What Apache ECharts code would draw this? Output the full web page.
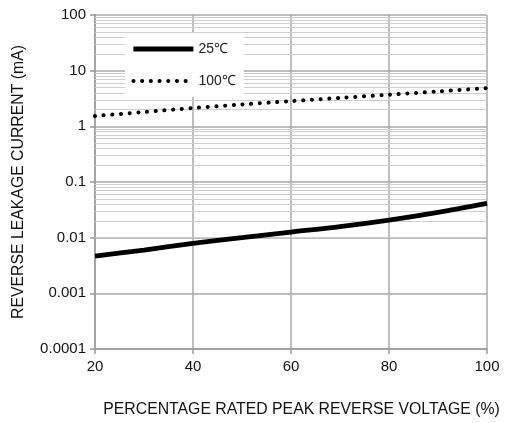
<!DOCTYPE html>
<html><head><meta charset="utf-8">
<script src="https://cdn.jsdelivr.net/npm/echarts@6/dist/echarts.min.js"></script>
<style>html,body{margin:0;padding:0;background:#fff}#c{width:509px;height:423px}</style>
</head><body><div id="c"></div>
<script>
const xValues = [20, 30, 40, 50, 60, 70, 80, 90, 100];
const current25 = [0.00468, 0.0060, 0.0079, 0.0100, 0.0126, 0.0158, 0.0207, 0.0285, 0.0412];
const current100 = [1.53, 1.81, 2.13, 2.47, 2.84, 3.24, 3.70, 4.24, 4.86];
const yTickLabels = ['0.0001', '0.001', '0.01', '0.1', '1', '10', '100'];
const seriesNames = ['25℃', '100℃'];

const minorValues = [];
for (let e = -4; e < 2; e++) {
  for (let k = 2; k <= 9; k++) minorValues.push(+(k * Math.pow(10, e)).toPrecision(3));
}

const font = 'Liberation Sans, Arial, sans-serif';
const solidStyle = { color: '#000', width: 4.8, type: 'solid' };
const dotStyle = { color: '#000', width: 4, type: [0.1, 8.6], cap: 'round' };

const chart = echarts.init(document.getElementById('c'));
chart.setOption({
  animation: false,
  backgroundColor: '#fff',
  grid: { left: 95, right: 22, top: 15, bottom: 73 },
  legend: {
    left: 125, top: 33, orient: 'vertical', z: 10,
    itemWidth: 60, itemHeight: 14, itemGap: 18,
    backgroundColor: '#fff',
    padding: [9, 8, 9, 6],
    itemStyle: { opacity: 0 },
    textStyle: { fontFamily: font, fontSize: 14, color: '#222' },
    data: [
      { name: seriesNames[0], lineStyle: solidStyle, itemStyle: { opacity: 0 } },
      { name: seriesNames[1], lineStyle: dotStyle, itemStyle: { opacity: 0 } }
    ]
  },
  xAxis: {
    type: 'value', min: 20, max: 100, interval: 20,
    name: 'PERCENTAGE RATED PEAK REVERSE VOLTAGE (%)',
    nameLocation: 'middle', nameGap: 53,
    nameTextStyle: { fontFamily: font, fontSize: 15.8, color: '#111', padding: [0, 0, 0, 21] },
    axisLine: { lineStyle: { color: '#9a9a9a', width: 1.5 } },
    axisTick: { show: true, length: 5, lineStyle: { color: '#9a9a9a', width: 1.5 } },
    axisLabel: { fontFamily: font, fontSize: 15, color: '#111', margin: 10 },
    splitLine: { show: true, lineStyle: { color: '#a8a8a8', width: 1.5 } }
  },
  yAxis: {
    type: 'log', logBase: 10, min: 0.0001, max: 100,
    name: 'REVERSE LEAKAGE CURRENT (mA)',
    nameLocation: 'middle', nameGap: 68,
    nameTextStyle: { fontFamily: font, fontSize: 15.8, color: '#111' },
    axisLine: { show: true, lineStyle: { color: '#9a9a9a', width: 1.5 } },
    axisTick: { show: true, length: 5, lineStyle: { color: '#9a9a9a', width: 1.5 } },
    axisLabel: {
      fontFamily: font, fontSize: 15, color: '#111', margin: 9,
      formatter: function (v) {
        const i = Math.round(Math.log10(v)) + 4;
        return yTickLabels[i] !== undefined ? yTickLabels[i] : '';
      }
    },
    splitLine: { show: true, lineStyle: { color: '#a8a8a8', width: 1.5 } }
  },
  series: [
    {
      type: 'line', name: '__minor', silent: true, data: [], z: 1,
      markLine: {
        silent: true, symbol: 'none', animation: false, z: 1,
        label: { show: false },
        lineStyle: { color: '#cfcfcf', width: 1, type: 'solid' },
        data: minorValues.map(v => ({ yAxis: v }))
      }
    },
    {
      type: 'line', name: seriesNames[0], smooth: 0.3, symbol: 'none', z: 3,
      lineStyle: solidStyle,
      itemStyle: { color: '#000' },
      data: xValues.map((x, i) => [x, current25[i]])
    },
    {
      type: 'line', name: seriesNames[1], smooth: 0.3, symbol: 'none', z: 3,
      lineStyle: dotStyle,
      itemStyle: { color: '#000' },
      data: xValues.map((x, i) => [x, current100[i]])
    }
  ]
});
</script></body></html>
